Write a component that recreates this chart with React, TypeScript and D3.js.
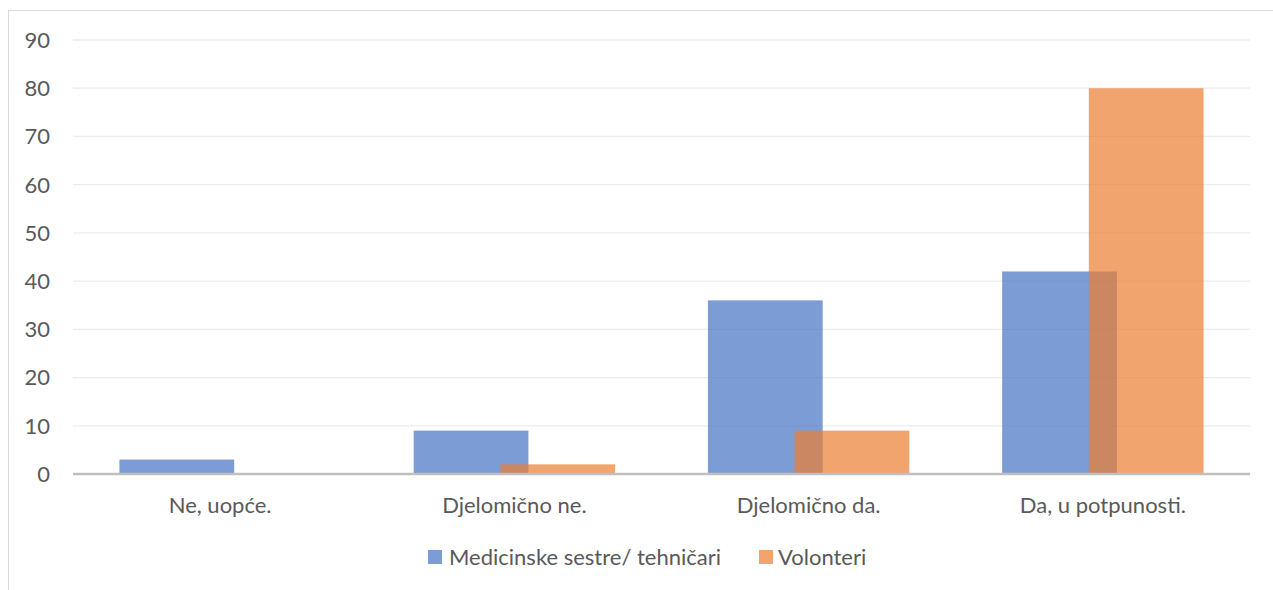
import React from 'react';
import * as d3 from 'd3';

const categories = ['Ne, uopće.', 'Djelomično ne.', 'Djelomično da.', 'Da, u potpunosti.'];
const seriesNames = ['Medicinske sestre/ tehničari', 'Volonteri'];
const medicinske = [3, 9, 36, 42];
const volonteri = [0, 2, 9, 80];
const yTicks = [0, 10, 20, 30, 40, 50, 60, 70, 80, 90];

const colors = ['#4472C4', '#ED7D31'];
const font = 'Lato, sans-serif';

const App = () => {
  const width = 1273;
  const height = 590;
  const left = 73;
  const right = 1250;
  const top = 40;
  const bottom = 474;

  const x = d3.scaleBand().domain(categories).range([left, right]);
  const y = d3.scaleLinear().domain([0, 90]).range([bottom, top]);

  const barW = x.bandwidth() * 0.39;
  const overlap = barW * 0.245;
  const series = [medicinske, volonteri];

  return (
    <svg width={width} height={height} style={{ position: 'absolute', left: 0, top: 0 }}>
      <rect x={8.5} y={10.5} width={1300} height={640} fill="#fff" stroke="#d9d9d9" />
      {/* gridlines */}
      {yTicks.map(t => (
        <line key={t} x1={left} x2={right} y1={y(t)} y2={y(t)} stroke="#ececec" strokeWidth={1.3} />
      ))}
      {yTicks.map(t => (
        <text key={'l' + t} x={50} y={y(t)} dy="0.36em" textAnchor="end"
          fontFamily={font} fontSize={22} fill="#595959">{t}</text>
      ))}
      {/* bars */}
      {series.map((vals, si) => (
        <g key={si}>
          {vals.map((v, i) => {
            const c = x(categories[i])! + x.bandwidth() / 2;
            const total = barW * 2 - overlap;
            const bx = c - total / 2 + si * (barW - overlap);
            return (
              <rect key={i} x={bx} y={y(v)} width={barW} height={bottom - y(v)}
                fill={colors[si]} fillOpacity={0.7} />
            );
          })}
        </g>
      ))}
      <line x1={left} x2={right} y1={bottom} y2={bottom} stroke="#bfbfbf" strokeWidth={2.5} />
      {categories.map(c => (
        <text key={c} x={x(c)! + x.bandwidth() / 2} y={513} textAnchor="middle"
          fontFamily={font} fontSize={22} fill="#595959">{c}</text>
      ))}
      {/* legend */}
      <rect x={428} y={550} width={14} height={14} fill={colors[0]} fillOpacity={0.7} />
      <text x={449} y={565} fontFamily={font} fontSize={22} fill="#595959">{seriesNames[0]}</text>
      <rect x={759} y={550} width={14} height={14} fill={colors[1]} fillOpacity={0.7} />
      <text x={778} y={565} fontFamily={font} fontSize={22} fill="#595959">{seriesNames[1]}</text>
    </svg>
  );
};

export default App;
